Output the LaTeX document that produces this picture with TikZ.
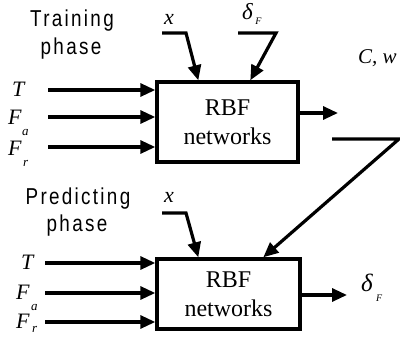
\documentclass[tikz,border=0pt]{standalone}
\usepackage{fontspec}
\setmainfont{Liberation Serif}
\newfontfamily\symfont[UprightFont=*-Italic]{Liberation Serif}
\newfontfamily\phasefont[FakeStretch=0.82,LetterSpace=10]{Liberation Sans}
\usetikzlibrary{arrows.meta}

\begin{document}
\begin{tikzpicture}[x=1pt,y=-1pt,
  flow/.style={line width=3.2pt,-{Triangle[length=15pt,width=13pt]}},
  netbox/.style={draw,line width=3.4pt,align=center,inner sep=0pt,
    font=\fontsize{24}{29}\selectfont},
  sym/.style={anchor=base west,inner sep=0pt,font=\fontsize{22}{22}\selectfont\itshape},
  subsym/.style={anchor=base west,inner sep=0pt,font=\fontsize{13}{13}\selectfont\itshape},
  tinysym/.style={anchor=base west,inner sep=0pt,font=\fontsize{10}{10}\selectfont\itshape},
  phase/.style={anchor=base,inner sep=0pt,font=\fontsize{23}{23}\selectfont\phasefont}
]
\useasboundingbox (0,0) rectangle (400,337);

% ---------- training phase ----------
\node[phase] (trainA) at (72,27) {Training};
\node[phase] (trainB) at (71,55) {phase};

\node[netbox,minimum width=141pt,minimum height=80pt] (boxA) at (227.5,122)
  {RBF\\networks};

\node[sym] (tA)  at (12,97)  {T};
\node[sym] (faA) at (8,125) {F};
\node[subsym] (faAs) at (22,136) {a};
\node[sym] (frA) at (8,156) {F};
\node[subsym] (frAs) at (23,167) {r};

\coordinate (inTA)  at (48,90);
\coordinate (inFaA) at (48,117);
\coordinate (inFrA) at (48,147);
\draw[flow] (inTA)  -- (inTA  -| boxA.west);
\draw[flow] (inFaA) -- (inFaA -| boxA.west);
\draw[flow] (inFrA) -- (inFrA -| boxA.west);

\node[sym] (xA) at (164,25) {x};
\coordinate (xAs) at (162,33);
\coordinate (xAb) at (186,33);
\draw[flow] (xAs) -- (xAb) -- ([xshift=43pt]boxA.north west);

\node[sym,font=\fontsize{23}{23}\selectfont\itshape] (dA) at (242,20) {δ};
\node[tinysym] (dAs) at ([xshift=2pt,yshift=-5pt]dA.base east) {F};
\coordinate (dAs1) at (238,33);
\coordinate (dAb)  at (276,33);
\draw[flow] (dAs1) -- (dAb) -- ([xshift=95pt]boxA.north west);

\coordinate (outA) at (338,113);
\draw[flow] ([yshift=9pt]boxA.east) -- (outA);
\node[anchor=base west,inner sep=0pt,font=\fontsize{21}{21}\selectfont\itshape]
  (cw) at (358,64) {C, w};

% ---------- predicting phase ----------
\node[phase] (predA) at (78,205) {Predicting};
\node[phase] (predB) at (77,232) {phase};

\node[netbox,minimum width=143pt,minimum height=70pt] (boxB) at (228.5,294)
  {RBF\\networks};

\node[sym] (tB)  at (21,270) {T};
\node[sym] (faB) at (16,300) {F};
\node[subsym] (faBs) at (31,311) {a};
\node[sym] (frB) at (16,329) {F};
\node[subsym] (frBs) at (32,333) {r};

\coordinate (inTB)  at (45,263);
\coordinate (inFaB) at (45,293);
\coordinate (inFrB) at (45,322);
\draw[flow] (inTB)  -- (inTB  -| boxB.west);
\draw[flow] (inFaB) -- (inFaB -| boxB.west);
\draw[flow] (inFrB) -- (inFrB -| boxB.west);

\node[sym] (xB) at (164,203) {x};
\coordinate (xBs) at (162,213);
\coordinate (xBb) at (186,213);
\draw[flow] (xBs) -- (xBb) -- ([xshift=43pt]boxB.north west);

% trained parameters passed down to the predicting network
\coordinate (fbS) at (332,139);
\coordinate (fbC) at (399,139);
\draw[flow] (fbS) -- (fbC) -- ([xshift=108pt]boxB.north west);

\coordinate (outB) at (347,295);
\draw[flow] ([yshift=-1pt]boxB.east) -- (outB);
\node[sym,font=\fontsize{25}{25}\selectfont\itshape] (dB) at (361,292) {δ};
\node[tinysym] (dBs) at ([xshift=3pt,yshift=-10pt]dB.base east) {F};
\end{tikzpicture}
\end{document}
